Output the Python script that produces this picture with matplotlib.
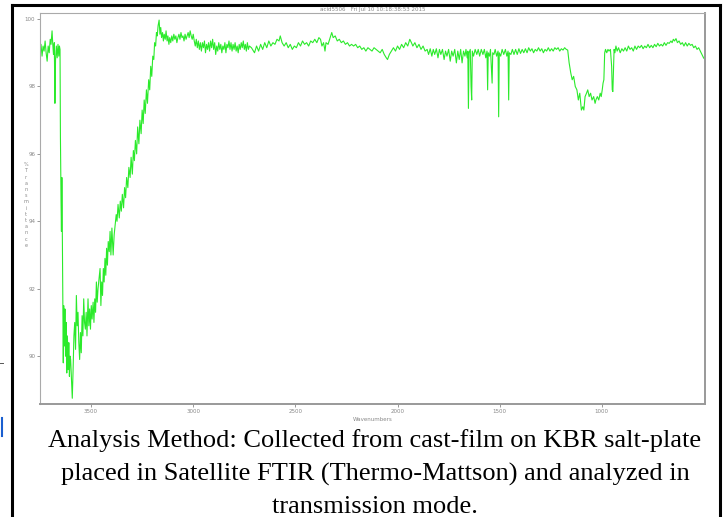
import matplotlib
matplotlib.use("Agg")
import matplotlib.pyplot as plt
from matplotlib.lines import Line2D

# FTIR transmission spectrum (wavenumber, %T)
wavenumber = [
    3750, 3745, 3740, 3735, 3730, 3725, 3720, 3715, 3710, 3705, 3700, 3696, 3691, 3688,
    3684, 3680, 3677, 3674, 3670, 3666, 3662, 3658, 3655, 3652,
    3650, 3647, 3645, 3643, 3641, 3638, 3636, 3634, 3631, 3628, 3625, 3622, 3619, 3616,
    3612, 3609, 3606, 3603, 3600, 3596, 3592, 3588, 3584, 3580, 3576, 3572, 3568, 3564,
    3560, 3556, 3552, 3548, 3544, 3540, 3536, 3532, 3528, 3524, 3520, 3515, 3511, 3507,
    3503, 3499, 3495, 3490, 3486, 3482, 3478, 3474, 3470, 3466, 3461, 3456, 3452, 3448,
    3444, 3440, 3436, 3432, 3428, 3424, 3420, 3416, 3411, 3407, 3403, 3398, 3392, 3387,
    3382, 3377, 3373, 3368, 3362, 3357, 3352, 3347, 3341, 3336, 3331, 3326, 3320, 3315,
    3309, 3304, 3298, 3293, 3288, 3283, 3277, 3272, 3266, 3261, 3255, 3250, 3245, 3240,
    3235, 3229, 3224, 3218, 3213, 3208, 3203, 3198, 3193, 3189, 3184, 3180, 3176, 3172,
    3167, 3163, 3159, 3155, 3150, 3146, 3142, 3137, 3133, 3128, 3124, 3119, 3115, 3110,
    3105, 3100, 3095, 3090, 3085, 3080, 3075, 3070, 3065, 3060, 3055, 3050, 3045, 3040,
    3035, 3030, 3025, 3020, 3015, 3010, 3005, 3000, 2995, 2990, 2985, 2980, 2975, 2970,
    2965, 2960, 2955, 2950, 2945, 2940, 2935, 2930, 2925, 2920, 2915, 2910, 2905, 2900,
    2895, 2890, 2885, 2880, 2875, 2870, 2865, 2860, 2855, 2850, 2845, 2840, 2835, 2830,
    2825, 2820, 2815, 2810, 2805, 2800, 2795, 2790, 2785, 2780, 2775, 2770, 2765, 2760,
    2755, 2750, 2745, 2740, 2735, 2730, 2725, 2715, 2700, 2690, 2680, 2670, 2660, 2650,
    2640, 2630, 2620, 2610, 2600, 2590, 2580, 2574, 2565, 2555, 2545, 2535, 2525, 2515,
    2505, 2495, 2485, 2475, 2465, 2455, 2445, 2435, 2425, 2415, 2405, 2395, 2385, 2377,
    2370, 2362, 2355, 2350, 2340, 2330, 2322, 2315, 2305, 2295, 2285, 2275, 2265, 2255,
    2245, 2235, 2225, 2215, 2205, 2195, 2185, 2175, 2165, 2155, 2145, 2135, 2125, 2115,
    2105, 2095, 2085, 2075, 2065, 2055, 2049, 2040, 2030, 2020, 2010, 2000, 1990, 1980,
    1970, 1960, 1950, 1940, 1932, 1925, 1915, 1905, 1895, 1885, 1875, 1865,
    1855, 1848, 1840, 1832, 1825, 1818, 1810, 1802, 1795, 1788, 1780, 1772, 1765, 1758,
    1750, 1742, 1735, 1728, 1720, 1712, 1705, 1698, 1691, 1684, 1677, 1670, 1665, 1659,
    1656, 1653, 1650, 1644, 1640, 1637, 1634, 1628, 1620, 1612, 1605, 1598, 1590, 1582,
    1575, 1568, 1562, 1559, 1556, 1550, 1545, 1537, 1534, 1528, 1522, 1515, 1508, 1505,
    1502, 1495, 1488, 1480, 1472, 1465, 1459, 1456, 1453, 1445, 1438, 1430, 1422, 1414,
    1406, 1398, 1390, 1382, 1374, 1366, 1358, 1350, 1342, 1334, 1326, 1318, 1310, 1302,
    1294, 1286, 1278, 1270, 1262, 1254, 1246, 1238, 1230, 1222, 1214, 1206, 1198, 1190,
    1182, 1174, 1167, 1160, 1152, 1145, 1138, 1130, 1122, 1115, 1108, 1100, 1093, 1088,
    1082, 1075, 1069, 1062, 1055, 1048, 1040, 1033, 1029, 1022, 1015, 1008, 1003, 998,
    994, 990, 986, 982, 976, 970, 965, 958, 952, 949, 946, 943, 940, 936,
    931, 925, 918, 910, 902, 894, 886, 878, 870, 862, 854, 846, 838, 830,
    822, 814, 806, 798, 790, 782, 774, 766, 758, 750, 742, 734, 726, 718,
    710, 702, 694, 686, 678, 670, 662, 656, 650, 644, 637, 630, 622, 614,
    606, 598, 590, 582, 574, 566, 558, 550, 542, 534, 526, 518, 510, 502, 495,
]
transmittance = [
    99.05, 99.25, 98.90, 99.20, 99.05, 99.35, 99.00, 98.75, 99.20, 99.00, 99.40, 99.25, 99.65, 99.30,
    98.95, 99.30, 97.50, 98.80, 99.20, 98.85, 99.25, 98.90, 99.20, 99.10,
    96.50, 94.60, 93.70, 95.30, 93.90, 91.40, 89.80, 91.50, 90.30, 91.40, 90.00, 91.00, 89.50, 90.60,
    89.60, 90.40, 89.40, 90.00, 89.90, 89.30, 88.75, 89.60, 90.60, 91.00, 90.20, 91.80, 90.90, 91.30,
    90.40, 89.90, 90.70, 90.10, 91.20, 90.60, 91.70, 91.00, 90.80, 91.30, 90.60, 91.70, 90.90, 91.40,
    90.80, 91.50, 91.10, 91.60, 91.00, 91.70, 91.30, 92.20, 91.60, 92.00, 92.30, 92.60, 91.50, 92.20,
    91.80, 92.60, 92.20, 92.90, 92.40, 93.20, 92.70, 93.40, 93.10, 93.70, 93.00, 93.80, 93.00, 93.60,
    93.90, 94.20, 94.00, 94.50, 94.10, 94.60, 94.30, 94.80, 94.40, 95.00, 94.70, 95.30, 95.00, 95.60,
    95.30, 95.90, 95.40, 96.10, 95.80, 96.40, 96.00, 96.80, 96.30, 97.00, 96.60, 97.30, 96.90, 97.60,
    97.20, 97.90, 97.50, 98.20, 97.90, 98.60, 98.30, 98.90, 98.80, 99.30, 99.20, 99.60, 99.50, 99.80,
    99.97, 99.55, 99.75, 99.45, 99.60, 99.35, 99.55, 99.40, 99.65, 99.35, 99.50, 99.25, 99.45, 99.30,
    99.50, 99.35, 99.55, 99.40, 99.50, 99.30, 99.45, 99.55, 99.40, 99.60, 99.45, 99.50, 99.35, 99.55,
    99.40, 99.50, 99.60, 99.45, 99.65, 99.50, 99.40, 99.55, 99.35, 99.20, 99.40, 99.15, 99.35, 99.10,
    99.30, 99.05, 99.30, 99.15, 99.35, 99.00, 99.25, 99.10, 99.30, 99.05, 99.35, 99.15, 99.40, 99.10,
    99.30, 98.95, 99.20, 99.05, 99.30, 99.10, 99.25, 99.00, 99.20, 99.10, 99.30, 99.00, 99.25, 99.15,
    99.35, 99.10, 99.30, 99.05, 99.25, 99.10, 99.30, 99.05, 99.20, 99.00, 99.25, 99.10, 99.30, 99.15,
    99.35, 99.10, 99.25, 99.05, 99.30, 99.10, 99.20, 99.15, 99.00, 99.20, 99.05, 99.25, 99.10, 99.30,
    99.15, 99.35, 99.20, 99.30, 99.25, 99.40, 99.35, 99.50, 99.30, 99.20, 99.30, 99.15, 99.25, 99.10,
    99.20, 99.15, 99.30, 99.20, 99.35, 99.25, 99.30, 99.20, 99.35, 99.30, 99.40, 99.30, 99.45, 99.40,
    99.20, 99.30, 99.05, 99.30, 99.25, 99.45, 99.60, 99.45, 99.50, 99.35, 99.40, 99.30, 99.35, 99.25,
    99.30, 99.20, 99.25, 99.20, 99.25, 99.15, 99.20, 99.10, 99.15, 99.05, 99.15, 99.10, 99.05, 99.15,
    99.10, 99.05, 99.00, 99.10, 98.95, 98.85, 98.80, 98.95, 99.05, 99.15, 99.05, 99.20, 99.10, 99.25,
    99.15, 99.30, 99.20, 99.40, 99.30, 99.20, 99.30, 99.15, 99.25, 99.10, 99.20, 99.05,
    99.10, 98.95, 99.12, 98.90, 99.10, 98.95, 99.12, 98.85, 99.10, 98.95, 99.10, 98.80, 99.05, 98.90,
    99.10, 98.75, 99.05, 98.90, 99.10, 98.70, 99.05, 98.80, 99.10, 98.70, 99.05, 98.90, 99.10, 98.85,
    99.05, 97.35, 99.00, 99.10, 98.00, 97.60, 99.05, 98.90, 99.10, 98.95, 99.10, 98.90, 99.10, 98.95,
    99.10, 98.85, 99.05, 97.90, 99.00, 98.90, 99.10, 98.10, 99.00, 98.95, 99.10, 98.90, 99.05, 97.10,
    99.00, 98.90, 99.10, 98.95, 99.10, 98.90, 99.05, 97.60, 99.00, 98.95, 99.10, 98.95, 99.10, 98.95,
    99.12, 98.98, 99.10, 99.00, 99.12, 99.00, 99.15, 99.05, 99.12, 99.00, 99.10, 99.05, 99.15, 99.05,
    99.12, 99.00, 99.10, 99.05, 99.15, 99.05, 99.12, 99.05, 99.15, 99.10, 99.15, 99.05, 99.12, 99.08,
    99.15, 99.10, 99.08, 98.70, 98.40, 98.20, 98.30, 98.00, 97.90, 97.60, 97.80, 97.30, 97.40, 97.30,
    97.70, 97.80, 97.90, 97.70, 97.80, 97.60, 97.70, 97.50, 97.60, 97.70, 97.60, 97.80, 97.70, 97.90,
    98.10, 98.20, 99.00, 99.10, 99.00, 99.10, 99.05, 99.10, 98.60, 97.90, 97.85, 98.50, 99.10, 99.00,
    99.20, 99.05, 99.15, 99.00, 99.12, 99.05, 99.15, 99.05, 99.20, 99.10, 99.15, 99.05, 99.20, 99.10,
    99.20, 99.15, 99.22, 99.12, 99.20, 99.15, 99.25, 99.15, 99.22, 99.15, 99.25, 99.18, 99.28, 99.20,
    99.25, 99.20, 99.30, 99.22, 99.30, 99.28, 99.35, 99.30, 99.40, 99.35, 99.42, 99.30, 99.35, 99.25,
    99.30, 99.20, 99.30, 99.20, 99.28, 99.22, 99.25, 99.15, 99.20, 99.10, 99.15, 99.05, 98.95, 98.85, 98.80,
]

x_ticks = [3500, 3000, 2500, 2000, 1500, 1000]
y_ticks = [100, 98, 96, 94, 92, 90]

title_text = "acid5506   Fri Jul 10 10:18:38:53 2015"
caption_lines = [
    "Analysis Method: Collected from cast-film on KBR salt-plate",
    "placed in Satellite FTIR (Thermo-Mattson) and analyzed in",
    "transmission mode.",
]

W, H = 723, 517
fig = plt.figure(figsize=(W / 100, H / 100), dpi=100)
fig.patch.set_facecolor("white")

ax = fig.add_axes([40 / W, 1 - 404 / H, 665 / W, 391 / H])
ax.plot(wavenumber, transmittance, color="#2bea2b", lw=0.8)
ax.set_xlim(3750, 495)
ax.set_ylim(88.58, 100.18)
ax.set_xticks(x_ticks)
ax.set_yticks(y_ticks)
ax.tick_params(labelsize=4, colors="#888888", length=2, width=0.6, pad=1.5)
for s in ax.spines.values():
    s.set_color("#aaaaaa")
    s.set_linewidth(0.8)
ax.spines["right"].set_color("#999999")
ax.spines["right"].set_linewidth(1.4)
ax.spines["bottom"].set_color("#999999")
ax.spines["bottom"].set_linewidth(1.4)

ax.set_xlabel("Wavenumbers", fontsize=4, color="#888888", labelpad=2)
ax.set_title(title_text, fontsize=4, color="#888888", pad=1.5, x=0.5)

# stacked y label, letter under letter
fig.text(26 / W, 1 - 205 / H, "\n".join("%Transmittance"), fontsize=3.5, color="#888888",
         ha="center", va="center", linespacing=1.3)

# outer frame of the screenshot
frame = dict(color="black", lw=2.2, transform=fig.transFigure)
fig.add_artist(Line2D([12 / W, 12 / W], [0, 1 - 5 / H], **frame))
fig.add_artist(Line2D([12 / W, 720 / W], [1 - 5 / H, 1 - 5 / H], **frame))
fig.add_artist(Line2D([720 / W, 720 / W], [0, 1 - 5 / H], **frame))
fig.add_artist(Line2D([0, 3 / W], [1 - 363 / H, 1 - 363 / H], color="#555555", lw=0.7,
                      transform=fig.transFigure))
fig.add_artist(Line2D([2 / W, 2 / W], [1 - 418 / H, 1 - 436 / H], color="#1a5fd0", lw=1.5,
                      transform=fig.transFigure))

for i, line in enumerate(caption_lines):
    fig.text(375 / W, 1 - (441 + 33 * i) / H, line, fontsize=19, family="Liberation Serif",
             ha="center", va="center", color="black")

fig.savefig("out.png", dpi=100)
